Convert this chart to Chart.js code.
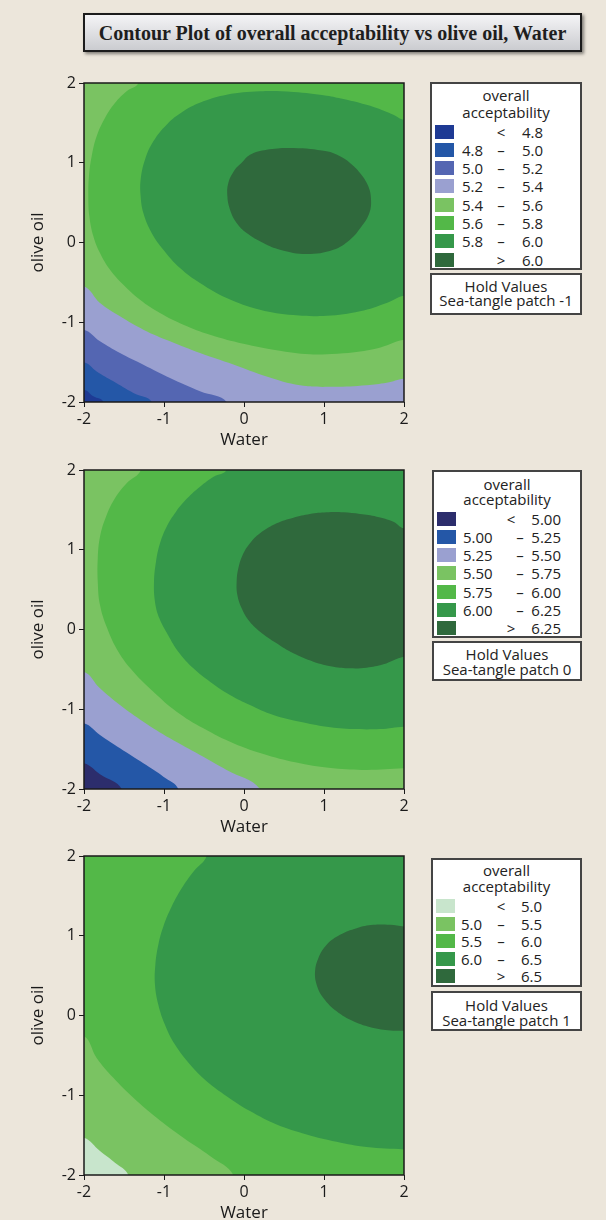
<!DOCTYPE html>
<html>
<head>
<meta charset="utf-8">
<script src="https://cdn.jsdelivr.net/npm/chart.js@4.4.1/dist/chart.umd.min.js"></script>
<style>
  html, body { margin: 0; padding: 0; }
  body { width: 606px; height: 1220px; background: #ece6db; position: relative; overflow: hidden;
         font-family: "Open Sans", sans-serif; color: #222; }
  #title { position: absolute; left: 83px; top: 13px; width: 495px; height: 35px;
           border: 2px solid #1c1c1c; box-shadow: 2px 2px 3px rgba(0,0,0,.45);
           background: linear-gradient(#f4f4f6, #cbccd0);
           font: bold 20px "Liberation Serif", serif; line-height: 37px; text-align: center; color: #1e1e1e; }
  canvas { position: absolute; left: 0; }
  .box { position: absolute; background: #fff; border: 2px solid #444; box-sizing: border-box; }
  .t { position: absolute; font-size: 15px; line-height: 18px; height: 18px; white-space: nowrap; }
  .sw { position: absolute; width: 19px; height: 14px; }
</style>
</head>
<body>
<div id="title">Contour Plot of overall acceptability vs olive oil, Water</div>
<canvas id="c1" width="420" height="380" style="top:70px"></canvas>
<canvas id="c2" width="420" height="380" style="top:457px"></canvas>
<canvas id="c3" width="420" height="380" style="top:843px"></canvas>
<script>
// ---- data ----
// tick labels on both axes
const axisTicks = [-2, -1, 0, 1, 2];

// panel 1 : Sea-tangle patch -1
const levels1 = ['4.8', '5.0', '5.2', '5.4', '5.6', '5.8', '6.0'];
const colors1 = ['#1e3a94', '#2457a7', '#5466b2', '#9aa0d0', '#7ac362', '#53b848', '#35984a', '#2f693c'];
// region above each level, as a closed outline of [Water, olive oil] points
const area1_48 = [[-2,-1.845],[-1.883,-1.929],[-1.758,-2],[2,-2],[2,2],[-2,2]];
const area1_50 = [[-2,-1.503],[-1.842,-1.616],[-1.633,-1.741],[-1.383,-1.887],[-1.154,-2],[2,-2],[2,2],[-2,2]];
const area1_52 = [[-2,-1.093],[-1.8,-1.239],[-1.55,-1.386],[-1.258,-1.532],[-0.925,-1.699],[-0.55,-1.866],[-0.217,-2],[2,-2],[2,2],[-2,2]];
const area1_54 = [[-2,-0.55],[-1.8,-0.759],[-1.55,-0.926],[-1.258,-1.093],[-0.925,-1.239],[-0.55,-1.386],[-0.133,-1.53],
  [0.283,-1.68],[0.7,-1.79],[1.117,-1.81],[1.533,-1.79],[1.783,-1.76],[2,-1.71],[2,2],[-2,2]];
const area1_56 = [[2,-1.22],[1.658,-1.33],[1.242,-1.39],[0.825,-1.4],[0.408,-1.35],[-0.008,-1.269],[-0.425,-1.156],
  [-0.758,-1.03],[-1.05,-0.884],[-1.3,-0.717],[-1.508,-0.529],[-1.675,-0.341],[-1.8,-0.132],[-1.883,0.078],[-1.933,0.328],
  [-1.946,0.579],[-1.938,0.83],[-1.904,1.08],[-1.842,1.331],[-1.738,1.561],[-1.613,1.749],[-1.467,1.896],[-1.321,2],[2,2]];
const area1_58 = [[2,1.54],[1.867,1.603],[1.658,1.687],[1.45,1.749],[1.242,1.799],[1.033,1.841],[0.617,1.887],[0.2,1.896],
  [-0.217,1.854],[-0.508,1.77],[-0.758,1.645],[-0.967,1.478],[-1.133,1.269],[-1.238,1.039],[-1.292,0.788],[-1.292,0.579],
  [-1.258,0.37],[-1.154,0.119],[-1.008,-0.09],[-0.8,-0.32],[-0.55,-0.508],[-0.217,-0.696],[0.2,-0.842],[0.617,-0.91],
  [1.033,-0.92],[1.45,-0.863],[1.783,-0.759],[2,-0.667]];
const area1_60 = [[-0.029,1.0],[-0.113,0.914],[-0.196,0.746],[-0.208,0.579],[-0.175,0.412],[-0.092,0.245],[0.033,0.119],
  [0.242,-0.006],[0.45,-0.09],[0.783,-0.144],[1.117,-0.09],[1.325,0.036],[1.471,0.203],[1.567,0.37],[1.588,0.537],
  [1.554,0.704],[1.45,0.871],[1.325,0.997],[1.2,1.08],[1.033,1.143],[0.617,1.185],[0.283,1.164],[0.075,1.101]];

// panel 2 : Sea-tangle patch 0
const levels2 = ['5.00', '5.25', '5.50', '5.75', '6.00', '6.25'];
const colors2 = ['#2c2d6c', '#2457a7', '#9aa0d0', '#7ac362', '#53b848', '#35984a', '#2f693c'];
const area2_500 = [[-2,-1.678],[-1.8,-1.816],[-1.529,-2],[2,-2],[2,2],[-2,2]];
const area2_525 = [[-2,-1.177],[-1.8,-1.323],[-1.55,-1.49],[-1.258,-1.678],[-1.008,-1.845],[-0.821,-2],[2,-2],[2,2],[-2,2]];
const area2_550 = [[-2,-0.529],[-1.8,-0.738],[-1.55,-0.947],[-1.258,-1.156],[-0.925,-1.365],[-0.55,-1.574],[-0.217,-1.762],
  [0.2,-2],[2,-2],[2,2],[-2,2]];
const area2_575 = [[2,-1.741],[1.533,-1.762],[1.117,-1.741],[0.7,-1.678],[0.283,-1.574],[-0.133,-1.427],[-0.508,-1.239],
  [-0.842,-1.03],[-1.133,-0.78],[-1.383,-0.529],[-1.571,-0.278],[-1.71,0.015],[-1.8,0.307],[-1.828,0.6],[-1.828,0.892],
  [-1.8,1.164],[-1.725,1.415],[-1.613,1.645],[-1.467,1.833],[-1.29,2],[2,2]];
const area2_600 = [[2,-1.218],[1.7,-1.248],[1.367,-1.248],[1.033,-1.218],[0.7,-1.156],[0.367,-1.072],[0.075,-0.947],
  [-0.175,-0.821],[-0.425,-0.654],[-0.633,-0.487],[-0.821,-0.278],[-0.95,-0.069],[-1.058,0.14],[-1.113,0.349],
  [-1.125,0.6],[-1.1,0.851],[-1.05,1.08],[-0.967,1.289],[-0.85,1.478],[-0.71,1.645],[-0.55,1.791],[-0.38,1.916],
  [-0.22,2],[2,2]];
const area2_625 = [[2,1.269],[1.867,1.352],[1.658,1.415],[1.45,1.448],[1.242,1.469],[1.033,1.469],[0.825,1.448],
  [0.617,1.402],[0.408,1.331],[0.2,1.206],[0.075,1.081],[-0.017,0.934],[-0.071,0.767],[-0.092,0.6],[-0.083,0.433],
  [-0.029,0.265],[0.054,0.119],[0.2,-0.027],[0.408,-0.173],[0.617,-0.299],[0.867,-0.403],[1.117,-0.466],[1.325,-0.487],
  [1.533,-0.479],[1.742,-0.437],[2,-0.341]];

// panel 3 : Sea-tangle patch 1
const levels3 = ['5.0', '5.5', '6.0', '6.5'];
const colors3 = ['#c8e5cc', '#7ac362', '#53b848', '#35984a', '#2f693c'];
const area3_50 = [[-2,-1.533],[-1.8,-1.7],[-1.613,-1.846],[-1.446,-2],[2,-2],[2,2],[-2,2]];
const area3_55 = [[-2,-0.261],[-1.842,-0.532],[-1.633,-0.782],[-1.383,-1.032],[-1.092,-1.283],[-0.758,-1.533],
  [-0.425,-1.762],[-0.133,-2],[2,-2],[2,2],[-1.904,2],[-2,1.762]];
const area3_60 = [[2,-1.679],[1.533,-1.65],[1.158,-1.583],[0.783,-1.491],[0.408,-1.366],[0.075,-1.199],[-0.217,-1.011],
  [-0.467,-0.824],[-0.675,-0.615],[-0.863,-0.365],[-0.988,-0.115],[-1.071,0.136],[-1.113,0.386],[-1.108,0.636],
  [-1.071,0.886],[-1.008,1.116],[-0.904,1.366],[-0.779,1.595],[-0.633,1.804],[-0.467,2],[2,2]];
const area3_65 = [[2,1.116],[1.825,1.137],[1.617,1.137],[1.408,1.095],[1.2,1.011],[1.033,0.886],[0.929,0.719],
  [0.888,0.553],[0.908,0.386],[0.992,0.219],[1.158,0.052],[1.367,-0.073],[1.617,-0.156],[1.867,-0.19],[2,-0.19]];

const holdLabels = ['Sea-tangle patch -1', 'Sea-tangle patch 0', 'Sea-tangle patch 1'];

// ---- drawing ----
const tickFont = { family: 'Open Sans', size: 16 };
const titleFont = { family: 'Open Sans', size: 17 };

// lowest band paints the whole plot, then every higher region on top
const baseFill = {
  id: 'baseFill',
  beforeDatasetsDraw(chart, args, opts) {
    const a = chart.chartArea, ctx = chart.ctx;
    ctx.save();
    ctx.fillStyle = opts.color;
    ctx.fillRect(a.left, a.top, a.right - a.left, a.bottom - a.top);
    ctx.restore();
  }
};
const frame = {
  id: 'frame',
  afterDatasetsDraw(chart) {
    const a = chart.chartArea, ctx = chart.ctx;
    ctx.save();
    ctx.strokeStyle = '#1a1a1a';
    ctx.lineWidth = 1.5;
    ctx.strokeRect(a.left, a.top, a.right - a.left, a.bottom - a.top);
    ctx.restore();
  }
};

// outline points on the frame get pushed a little outside so the curve
// meets the edge smoothly; the overflow is clipped to the plot area
const onEdge = p => Math.abs(p[0]) === 2 || Math.abs(p[1]) === 2;
const isCorner = p => Math.abs(p[0]) === 2 && Math.abs(p[1]) === 2;
const push = p => [Math.abs(p[0]) === 2 ? p[0] * 1.15 : p[0], Math.abs(p[1]) === 2 ? p[1] * 1.15 : p[1]];
function outline(pts) {
  const n = pts.length, out = [];
  pts.forEach((p, i) => {
    if (isCorner(p)) { out.push([p[0] * 1.25, p[1] * 1.25]); return; }
    const prev = pts[(i - 1 + n) % n], next = pts[(i + 1) % n];
    if (onEdge(p) && onEdge(prev)) out.push(push(p));
    out.push(p);
    if (onEdge(p) && onEdge(next)) out.push(push(p));
  });
  return out.concat([out[0], out[1]]);
}

function axis(title, fitFn, pad) {
  return {
    type: 'linear', min: -2, max: 2,
    afterBuildTicks: s => { s.ticks = axisTicks.map(v => ({ value: v })); },
    afterFit: fitFn,
    ticks: { font: tickFont, color: '#1a1a1a', padding: 3 },
    grid: { drawOnChartArea: false, drawTicks: true, tickLength: 5, color: '#1a1a1a', lineWidth: 1 },
    border: { display: false },
    title: { display: true, text: title, font: titleFont, color: '#1a1a1a', padding: pad }
  };
}

function makePanel(id, levels, colors, areas) {
  const datasets = areas.map((pts, i) => ({
    label: 'above ' + levels[i],
    data: outline(pts).map(p => ({ x: p[0], y: p[1] })),
    order: areas.length - i,          // higher level drawn later (on top)
    showLine: true,
    fill: 'shape',
    backgroundColor: colors[i + 1],
    borderColor: colors[i + 1],
    borderWidth: 0,
    pointRadius: 0,
    tension: 0.4,
    clip: 0
  }));
  new Chart(document.getElementById(id), {
    type: 'scatter',
    data: { datasets },
    options: {
      responsive: false,
      animation: false,
      events: [],
      layout: { padding: { left: 0, right: 16, top: 13, bottom: 0 } },
      scales: {
        x: axis('Water', s => { s.height = 48; }, { top: 0, bottom: 0 }),
        y: axis('olive oil', s => { s.width = 84; }, { top: 28, bottom: 0 })
      },
      plugins: { legend: { display: false }, tooltip: { enabled: false }, baseFill: { color: colors[0] } }
    },
    plugins: [baseFill, frame]
  });
}

makePanel('c1', levels1, colors1, [area1_48, area1_50, area1_52, area1_54, area1_56, area1_58, area1_60]);
makePanel('c2', levels2, colors2, [area2_500, area2_525, area2_550, area2_575, area2_600, area2_625]);
makePanel('c3', levels3, colors3, [area3_50, area3_55, area3_60, area3_65]);

// ---- legends (html text) ----
function el(cls, x, y, w, h) {
  const d = document.createElement('div');
  d.className = cls;
  d.style.left = x + 'px'; d.style.top = y + 'px';
  if (w) d.style.width = w + 'px';
  if (h) d.style.height = h + 'px';
  document.body.appendChild(d);
  return d;
}
function txt(s, x, yc, align) {
  const d = el('t', x, yc - 9);
  d.textContent = s;
  if (align === 'center') d.style.transform = 'translateX(-50%)';
  if (align === 'right') d.style.transform = 'translateX(-100%)';
  return d;
}
function legend(levels, colors, hold, L) {
  el('box', L.left, L.top, L.w, L.h);
  const cx = L.left + L.w / 2;
  txt('overall', cx, L.titleY[0], 'center');
  txt('acceptability', cx, L.titleY[1], 'center');
  colors.forEach((c, i) => {
    const y = L.first + i * L.pitch;
    const sw = el('sw', L.swX, y - 7);
    sw.style.background = c;
    if (i === 0) {
      txt('<', L.symX, y, 'center');
      txt(levels[0], L.highX, y, 'right');
    } else if (i === colors.length - 1) {
      txt('>', L.symX, y, 'center');
      txt(levels[i - 1], L.highX, y, 'right');
    } else {
      txt(levels[i - 1], L.lowX, y, 'left');
      txt('–', L.dashX, y, 'center');
      txt(levels[i], L.highX, y, 'right');
    }
  });
  el('box', L.left, L.holdTop, L.w, L.holdH);
  txt('Hold Values', cx, L.holdY[0], 'center');
  txt(hold, cx, L.holdY[1], 'center');
}

legend(levels1, colors1, holdLabels[0], { left: 430, top: 82, w: 152, h: 188, titleY: [95, 111.5], first: 131.5, pitch: 18.3,
  swX: 435, lowX: 462, symX: 501, dashX: 501, highX: 543, holdTop: 273, holdH: 42, holdY: [286, 300] });
legend(levels2, colors2, holdLabels[1], { left: 432, top: 470, w: 150, h: 168, titleY: [483.5, 498.5], first: 518.5, pitch: 18.3,
  swX: 437, lowX: 463, symX: 511, dashX: 520, highX: 561, holdTop: 641, holdH: 40, holdY: [654, 669] });
legend(levels3, colors3, holdLabels[2], { left: 431, top: 858, w: 151, h: 129, titleY: [870, 886], first: 906, pitch: 17.5,
  swX: 436, lowX: 461, symX: 501, dashX: 501, highX: 542, holdTop: 991, holdH: 40, holdY: [1004.5, 1020] });
</script>
</body>
</html>
